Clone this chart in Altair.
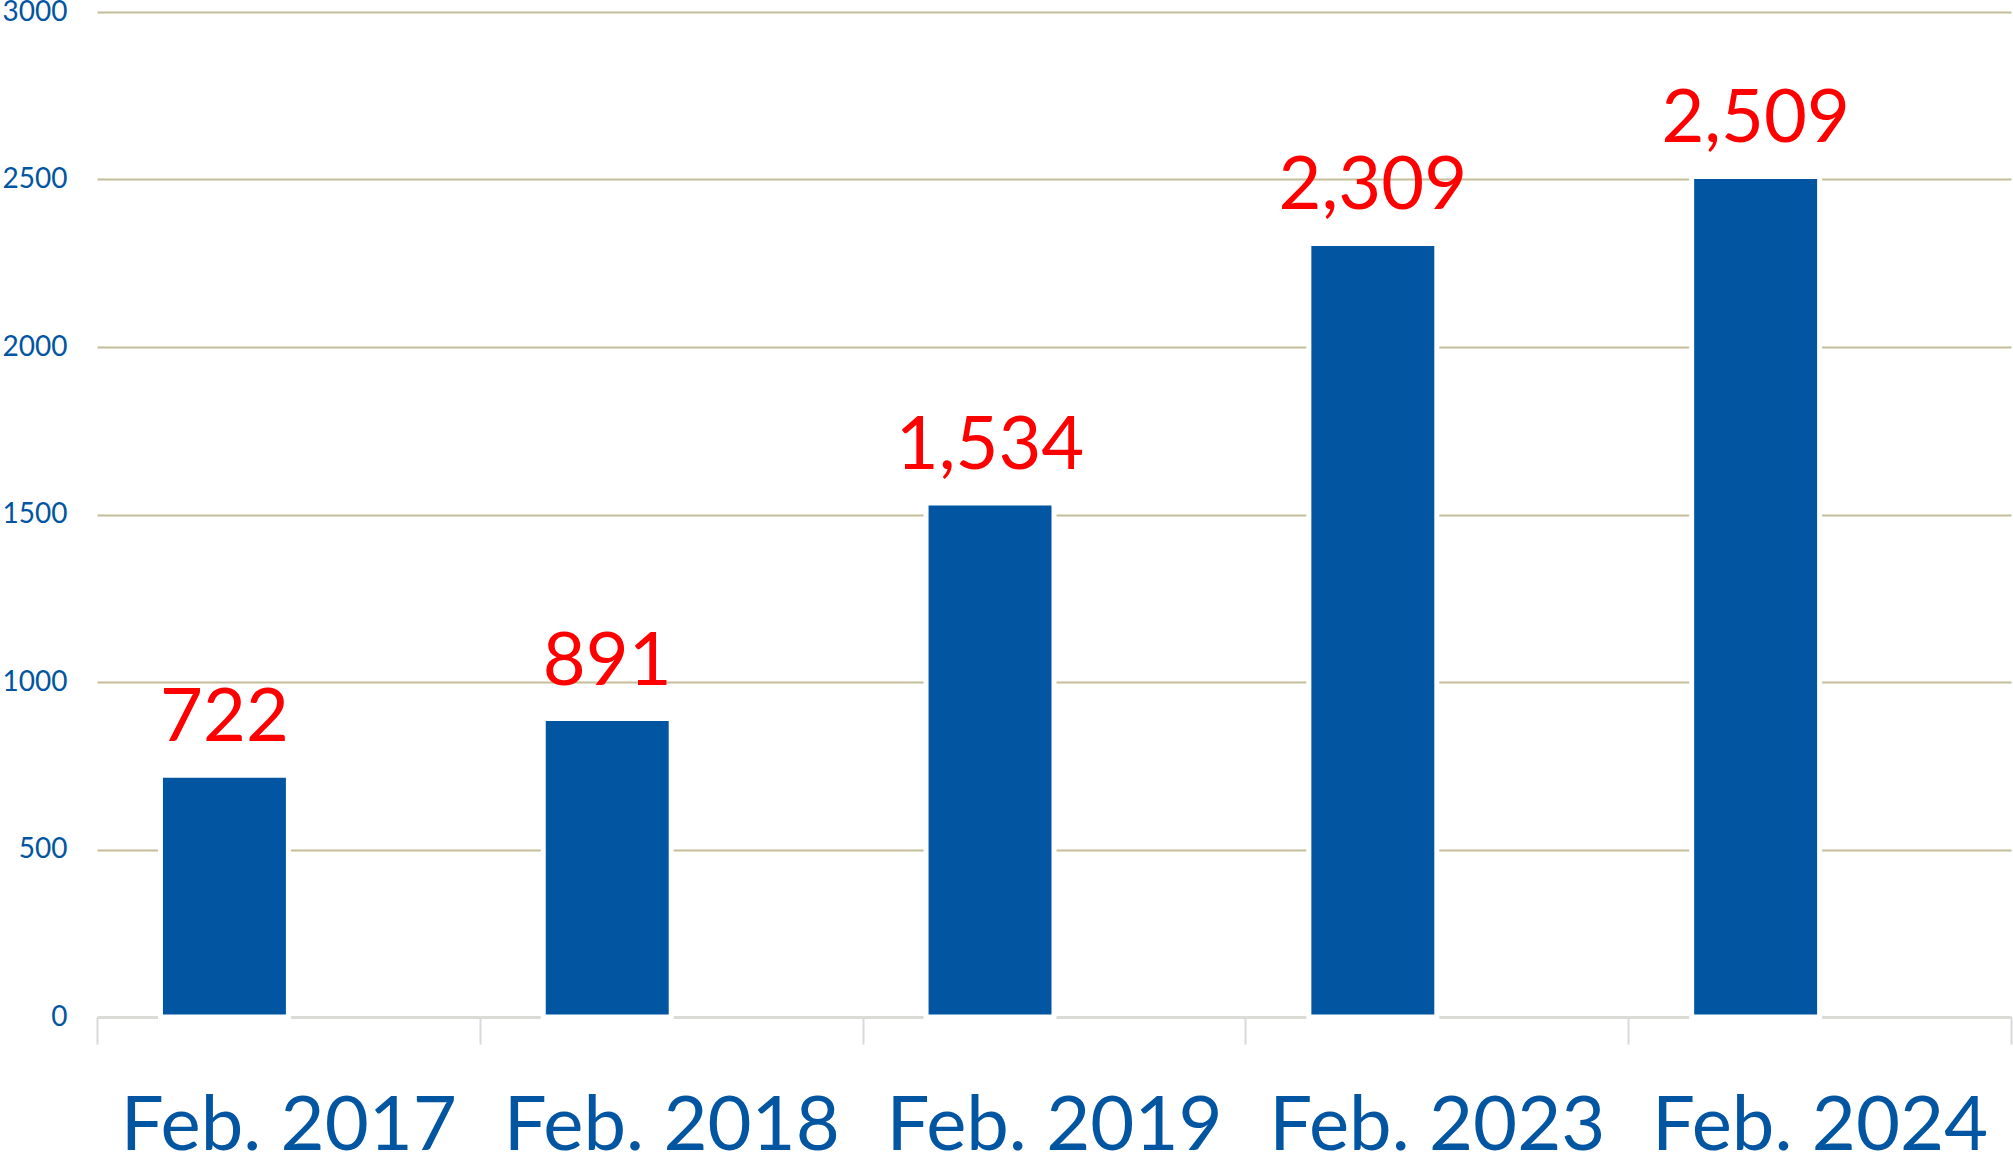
import altair as alt
import pandas as pd

categories = ["Feb. 2017", "Feb. 2018", "Feb. 2019", "Feb. 2023", "Feb. 2024"]
values = [722, 891, 1534, 2309, 2509]
labels = ["722", "891", "1,534", "2,309", "2,509"]
series = ["A", "A", "A", "A", "A"]

df = pd.DataFrame({"cat": categories, "value": values, "label": labels, "series": series})

FONT = "Lato"
BLUE = "#0255A1"

x = alt.X("cat:N", sort=categories, title=None,
          scale=alt.Scale(paddingInner=0, paddingOuter=0),
          axis=alt.Axis(labelAngle=0, labelFont=FONT, labelFontSize=76, labelColor=BLUE,
                        labelBaseline="alphabetic", labelPadding=105, labelLimit=0,
                        domainColor="#D9D9D9", domainWidth=2,
                        tickColor="#D9D9D9", tickWidth=2, tickSize=27,
                        tickBand="extent", grid=False))
xo = alt.XOffset("series:N", scale=alt.Scale(domain=["A", "B"], paddingInner=0, paddingOuter=0.496))
y = alt.Y("value:Q", title=None,
          scale=alt.Scale(domain=[0, 3000], nice=False),
          axis=alt.Axis(values=[0, 500, 1000, 1500, 2000, 2500, 3000], format="d",
                        labelFont=FONT, labelFontSize=28, labelColor=BLUE,
                        labelPadding=30, labelAlign="right", labelBaseline="middle",
                        domain=False, ticks=False,
                        gridColor="#C4BD97", gridWidth=2))

bars = alt.Chart(df).mark_bar(color=BLUE, stroke="white", strokeWidth=5).encode(
    x=x, xOffset=xo, y=y)

text = alt.Chart(df).mark_text(color="#FF0000", font=FONT, fontSize=74,
                               baseline="alphabetic", align="center", dy=-34).encode(
    x=alt.X("cat:N", sort=categories), xOffset=alt.XOffset("series:N"), y=alt.Y("value:Q"),
    text="label:N")

chart = alt.layer(bars, text).properties(
    width=1914, height=1005,
    background="white",
    autosize=alt.AutoSizeParams(type="none"),
    padding={"left": 97, "top": 12, "right": 2, "bottom": 145},
).configure_view(stroke=None)

chart.save("out.html", embed_options={"renderer": "svg", "actions": False})
